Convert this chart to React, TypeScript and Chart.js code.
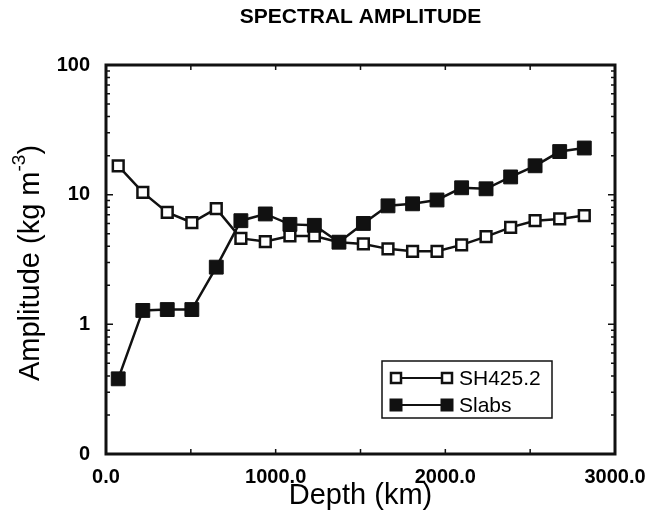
import { useEffect, useRef } from 'react';
import { Chart, registerables } from 'chart.js';

Chart.register(...registerables);

// depth of each layer (km)
const depths = [72, 217, 361, 506, 650, 795, 939, 1084, 1228, 1373, 1517, 1662, 1807, 1951, 2096, 2240, 2385, 2529, 2674, 2819];
// spectral amplitude (kg m^-3)
const sh4252 = [16.7, 10.4, 7.3, 6.1, 7.8, 4.6, 4.35, 4.8, 4.8, 4.3, 4.17, 3.82, 3.66, 3.66, 4.1, 4.75, 5.6, 6.3, 6.5, 6.9];
const slabs = [0.38, 1.28, 1.3, 1.3, 2.76, 6.3, 7.1, 5.9, 5.8, 4.3, 6.0, 8.2, 8.5, 9.1, 11.3, 11.1, 13.7, 16.7, 21.5, 22.9];

const xTicks = [0, 1000, 2000, 3000];
const xMinorTicks = [500, 1500, 2500];
const yTicks = [0.1, 1, 10, 100];
const yTickLabels = ['0', '1', '10', '100'];

const seriesNames = ['SH425.2', 'Slabs'];
const titleText = 'SPECTRAL AMPLITUDE';

const FONT = "'Liberation Sans', Arial, Helvetica, sans-serif";

const framePlugin = {
  id: 'frame',
  beforeDatasetsDraw(chart: any) {
    const { ctx, chartArea, scales } = chart;
    const { left, right, top, bottom } = chartArea;
    ctx.save();
    ctx.strokeStyle = '#111';
    ctx.lineWidth = 1.5;
    ctx.beginPath();
    [...xTicks, ...xMinorTicks].forEach((v) => {
      const px = scales.x.getPixelForValue(v);
      ctx.moveTo(px, bottom);
      ctx.lineTo(px, bottom - 5);
      ctx.moveTo(px, top);
      ctx.lineTo(px, top + 5);
    });
    [0.1, 1, 10].forEach((dec) => {
      for (let k = 1; k <= 9; k++) {
        const py = scales.y.getPixelForValue(dec * k);
        const len = k === 1 ? 7 : 4;
        ctx.moveTo(left, py);
        ctx.lineTo(left + len, py);
        ctx.moveTo(right, py);
        ctx.lineTo(right - len, py);
      }
    });
    ctx.stroke();
    ctx.lineWidth = 3;
    ctx.strokeRect(left, top, right - left, bottom - top);
    ctx.restore();
  },
};

const textPlugin = {
  id: 'texts',
  afterDraw(chart: any) {
    const { ctx, chartArea } = chart;
    ctx.save();
    ctx.fillStyle = '#000';

    // title
    ctx.font = `bold 21px ${FONT}`;
    ctx.textAlign = 'center';
    ctx.textBaseline = 'middle';
    ctx.fillText(titleText, (chartArea.left + chartArea.right) / 2, 17);

    // y axis title with superscript
    const big = `29px ${FONT}`;
    const small = `19px ${FONT}`;
    const p1 = 'Amplitude (kg m';
    const p2 = '-3';
    const p3 = ')';
    ctx.font = big;
    const w1 = ctx.measureText(p1).width;
    const w3 = ctx.measureText(p3).width;
    ctx.font = small;
    const w2 = ctx.measureText(p2).width;
    const total = w1 + w2 + w3;
    ctx.translate(39, 263);
    ctx.rotate(-Math.PI / 2);
    ctx.textAlign = 'left';
    ctx.textBaseline = 'alphabetic';
    let x = -total / 2;
    ctx.font = big;
    ctx.fillText(p1, x, 0);
    x += w1;
    ctx.font = small;
    ctx.fillText(p2, x, -14);
    x += w2;
    ctx.font = big;
    ctx.fillText(p3, x, 0);
    ctx.restore();

    // legend
    const bx = chartArea.left + 276;
    const by = chartArea.top + 296;
    ctx.save();
    ctx.fillStyle = '#fff';
    ctx.fillRect(bx, by, 170, 57);
    ctx.strokeStyle = '#111';
    ctx.lineWidth = 1.5;
    ctx.strokeRect(bx, by, 170, 57);
    const rows = [by + 17, by + 44];
    rows.forEach((ry, i) => {
      ctx.lineWidth = 2;
      ctx.beginPath();
      ctx.moveTo(bx + 14, ry);
      ctx.lineTo(bx + 65, ry);
      ctx.stroke();
      [bx + 14, bx + 65].forEach((mx) => {
        if (i === 0) {
          ctx.fillStyle = '#fff';
          ctx.fillRect(mx - 5, ry - 5, 10, 10);
          ctx.lineWidth = 2.5;
          ctx.strokeRect(mx - 5, ry - 5, 10, 10);
        } else {
          ctx.fillStyle = '#111';
          ctx.fillRect(mx - 6.5, ry - 6.5, 13, 13);
        }
      });
      ctx.fillStyle = '#000';
      ctx.font = `21px ${FONT}`;
      ctx.textAlign = 'left';
      ctx.textBaseline = 'middle';
      ctx.fillText(seriesNames[i], bx + 77, ry + 1);
    });
    ctx.restore();
  },
};

export default function App() {
  const canvasRef = useRef<HTMLCanvasElement | null>(null);

  useEffect(() => {
    if (!canvasRef.current) return;
    const ctx = canvasRef.current.getContext('2d');
    if (!ctx) return;

    const chart = new Chart(ctx, {
      type: 'line',
      data: {
        datasets: [
          {
            label: seriesNames[0],
            data: depths.map((d, i) => ({ x: d, y: sh4252[i] })),
            borderColor: '#111',
            borderWidth: 2.5,
            pointStyle: 'rect',
            pointRadius: 7.6,
            pointBorderWidth: 2.5,
            pointBackgroundColor: '#fff',
            pointBorderColor: '#111',
            tension: 0,
            order: 1,
          },
          {
            label: seriesNames[1],
            data: depths.map((d, i) => ({ x: d, y: slabs[i] })),
            borderColor: '#111',
            borderWidth: 2.5,
            pointStyle: 'rect',
            pointRadius: 9.8,
            pointBorderWidth: 1,
            pointBackgroundColor: '#111',
            pointBorderColor: '#111',
            tension: 0,
            order: 0,
          },
        ],
      },
      options: {
        animation: false,
        responsive: false,
        layout: { padding: { left: 0, right: 34, top: 65, bottom: 0 } },
        plugins: {
          legend: { display: false },
          title: { display: false },
          tooltip: { enabled: false },
        },
        scales: {
          x: {
            type: 'linear',
            min: 0,
            max: 3000,
            afterBuildTicks: (s: any) => {
              s.ticks = xTicks.map((v) => ({ value: v }));
            },
            afterFit: (s: any) => {
              s.height = 62;
              s.paddingLeft = 0;
              s.paddingRight = 0;
            },
            ticks: {
              callback: (v: any) => Number(v).toFixed(1),
              font: { family: FONT, size: 20, weight: 'bold' },
              color: '#000',
              padding: 11,
              maxRotation: 0,
              autoSkip: false,
            },
            grid: { display: false, drawTicks: false },
            border: { display: false },
            title: {
              display: true,
              text: 'Depth (km)',
              color: '#000',
              font: { family: FONT, size: 29 },
              padding: { top: 0, bottom: 3 },
            },
          },
          y: {
            type: 'logarithmic',
            min: 0.1,
            max: 100,
            afterBuildTicks: (s: any) => {
              s.ticks = yTicks.map((v) => ({ value: v }));
            },
            afterFit: (s: any) => {
              s.width = 106;
            },
            ticks: {
              callback: (v: any) => yTickLabels[yTicks.indexOf(Number(v))] ?? '',
              font: { family: FONT, size: 20, weight: 'bold' },
              color: '#000',
              padding: 16,
              autoSkip: false,
            },
            grid: { display: false, drawTicks: false },
            border: { display: false },
          },
        },
      },
      plugins: [framePlugin, textPlugin],
    });

    return () => chart.destroy();
  }, []);

  return (
    <div style={{ position: 'fixed', left: 0, top: 0, width: 649, height: 516, background: '#fff' }}>
      <canvas ref={canvasRef} width={649} height={516} style={{ width: 649, height: 516 }}></canvas>
    </div>
  );
}
